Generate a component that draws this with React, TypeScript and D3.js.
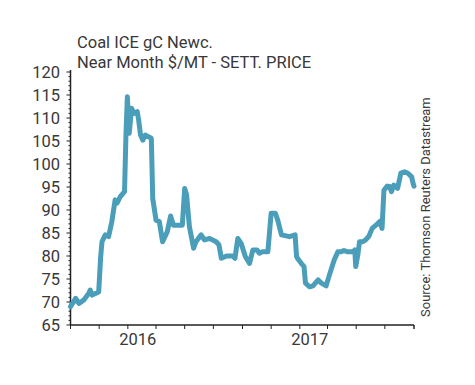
import React from 'react';
import * as d3 from 'd3';

const W = 475;
const H = 385;

const titleLines = ['Coal ICE gC Newc.', 'Near Month $/MT - SETT. PRICE'];
const sourceText = 'Source: Thomson Reuters Datastream';

const yTicks = [65, 70, 75, 80, 85, 90, 95, 100, 105, 110, 115, 120];
const yearLabels = ['2016', '2017'];

const dates = [
  '2015-09-01', '2015-09-12', '2015-09-19', '2015-09-29', '2015-10-10', '2015-10-13', '2015-10-17', '2015-10-31',
  '2015-11-04', '2015-11-07', '2015-11-14', '2015-11-21', '2015-11-28', '2015-12-05', '2015-12-09', '2015-12-16',
  '2015-12-25', '2015-12-28', '2015-12-31', '2016-01-04', '2016-01-09', '2016-01-14', '2016-01-21', '2016-01-24',
  '2016-01-28', '2016-02-02', '2016-02-07', '2016-02-14', '2016-02-20', '2016-02-23', '2016-03-01', '2016-03-08',
  '2016-03-15', '2016-03-25', '2016-04-01', '2016-04-07', '2016-04-16', '2016-04-26', '2016-05-01', '2016-05-05',
  '2016-05-11', '2016-05-20', '2016-05-25', '2016-06-05', '2016-06-12', '2016-06-23', '2016-07-07', '2016-07-13',
  '2016-07-18', '2016-07-29', '2016-08-11', '2016-08-16', '2016-08-22', '2016-08-29', '2016-09-07', '2016-09-16',
  '2016-09-23', '2016-10-02', '2016-10-07', '2016-10-13', '2016-10-25', '2016-11-01', '2016-11-10', '2016-11-15',
  '2016-11-23', '2016-12-10', '2016-12-22', '2016-12-25', '2016-12-27', '2017-01-04', '2017-01-10', '2017-01-13',
  '2017-01-22', '2017-01-29', '2017-02-09', '2017-02-16', '2017-02-26', '2017-03-05', '2017-03-15', '2017-03-23',
  '2017-03-30', '2017-04-05', '2017-04-13', '2017-04-24', '2017-04-28', '2017-04-30', '2017-05-05', '2017-05-08',
  '2017-05-15', '2017-05-21', '2017-05-28', '2017-06-04', '2017-06-12', '2017-06-20', '2017-06-25', '2017-06-29',
  '2017-07-06', '2017-07-11', '2017-07-15', '2017-07-20', '2017-07-28', '2017-08-04', '2017-08-12', '2017-08-19',
  '2017-08-27', '2017-08-30', '2017-09-01',
];

const prices = [
  69.0, 70.8, 69.7, 70.4, 71.9, 72.6, 71.5, 72.2,
  79.5, 83.1, 84.6, 84.2, 87.5, 92.2, 91.5, 92.9,
  94.0, 106.3, 114.6, 106.7, 112.1, 111.0, 111.4, 109.6,
  106.3, 105.2, 106.3, 105.9, 105.6, 92.5, 87.8, 87.5,
  83.1, 85.3, 88.7, 86.7, 86.7, 86.7, 94.7, 93.3,
  86.4, 81.7, 83.1, 84.6, 83.5, 83.8, 83.1, 82.4,
  79.5, 80.0, 80.0, 79.5, 83.8, 82.8, 79.9, 78.4,
  81.3, 81.3, 80.6, 80.9, 80.9, 89.3, 89.3, 87.8,
  84.6, 84.2, 84.6, 79.9, 79.5, 78.4, 77.7, 74.1,
  73.3, 73.5, 74.8, 74.1, 73.5, 75.9, 79.1, 80.9,
  80.9, 81.2, 80.9, 80.9, 81.3, 77.7, 80.6, 83.1,
  83.1, 83.5, 84.3, 86.0, 86.7, 87.5, 86.0, 94.3,
  95.2, 95.1, 94.0, 95.4, 94.7, 98.0, 98.3, 98.0,
  97.2, 95.8, 95.2,
];

const parse = d3.timeParse('%Y-%m-%d');

export default function App() {
  const left = 70.5;
  const right = 414;
  const top = 72;
  const bottom = 325;

  const x = d3.scaleTime()
    .domain([parse('2015-09-01')!, parse('2017-09-01')!])
    .range([left, right]);
  const y = d3.scaleLinear().domain([65, 120]).range([bottom, top]);

  const points = dates.map((d, i) => ({ date: parse(d)!, value: prices[i] }));
  const line = d3.line<{ date: Date; value: number }>()
    .x(d => x(d.date))
    .y(d => y(d.value));

  const xTicks = x.ticks(d3.timeMonth.every(2)!);
  const minor = d3.range(65, 121, 1);
  const font = 'Roboto, "Noto Sans", sans-serif';
  const ink = '#383838';

  return (
    <svg width={W} height={H} style={{ position: 'absolute', left: 0, top: 0, background: '#fff' }}>
      {titleLines.map((t, i) => (
        <text key={t} x={77} y={48 + i * 19.5} fontSize={16.5} fontFamily={font} fill={ink}>{t}</text>
      ))}

      {/* y axis */}
      <line x1={left} x2={left} y1={top - 2} y2={bottom} stroke="#222" strokeWidth={1.5} />
      {minor.map(v => (
        <line key={v} x1={left - (v % 5 === 0 ? 4 : 2)} x2={left} y1={y(v)} y2={y(v)} stroke="#222" strokeWidth={1} />
      ))}
      {yTicks.map(v => (
        <text key={v} x={60} y={y(v)} dy="0.35em" textAnchor="end" fontSize={16.5} fontFamily={font} fill={ink}>{v}</text>
      ))}

      {/* x axis */}
      <line x1={left} x2={right} y1={bottom} y2={bottom} stroke="#222" strokeWidth={1.5} />
      {xTicks.map(t => (
        <line key={+t} x1={x(t)} x2={x(t)} y1={bottom} y2={bottom + 4} stroke="#222" strokeWidth={1} />
      ))}
      <line x1={right} x2={right} y1={bottom} y2={bottom + 4} stroke="#222" strokeWidth={1} />
      {yearLabels.map(l => (
        <text key={l} x={x(parse(`${l}-01-01`)!) + 10} y={345} textAnchor="middle" fontSize={16.5} fontFamily={font} fill={ink}>{l}</text>
      ))}

      <path d={line(points) || ''} fill="none" stroke="#4a9eba" strokeWidth={5} strokeLinejoin="round" strokeLinecap="round" />

      <text transform="translate(430,317) rotate(-90)" fontSize={13} fontFamily={font} fill={ink}>{sourceText}</text>
    </svg>
  );
}
